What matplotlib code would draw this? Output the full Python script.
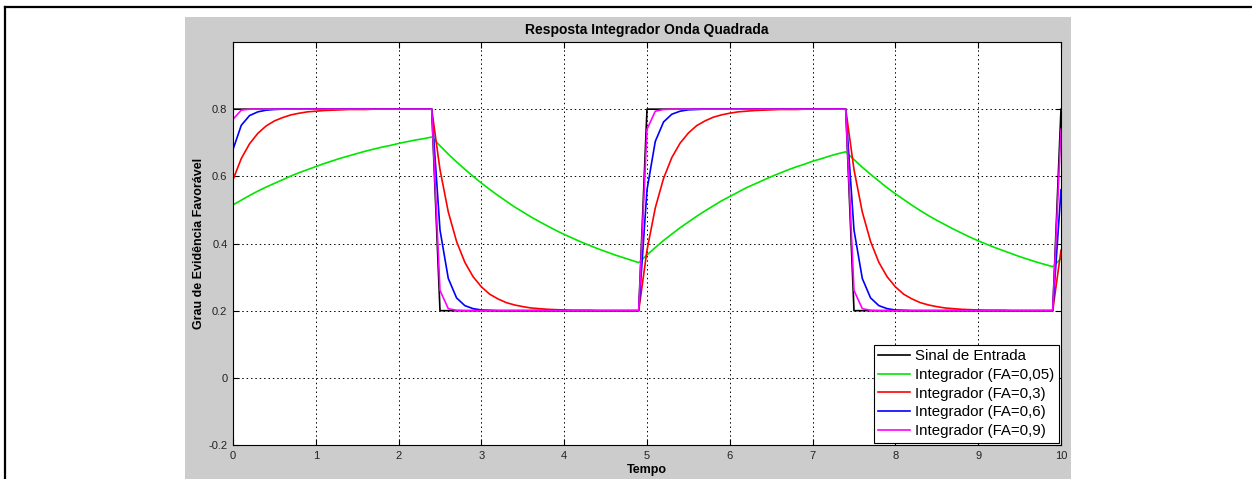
import matplotlib
matplotlib.use('Agg')
import matplotlib.pyplot as plt
from matplotlib.lines import Line2D
from matplotlib.patches import Rectangle

plt.rcParams['font.family'] = ['Liberation Sans', 'DejaVu Sans']

# time axis: 0 .. 10 in steps of 0.1
tempo = [i / 10 for i in range(101)]

# input square wave
entrada = [0.8] * 25 + [0.2] * 25 + [0.8] * 25 + [0.2] * 25 + [0.8]

# integrator responses
fa_005 = [0.515, 0.529, 0.543, 0.556, 0.568, 0.579, 0.590, 0.601, 0.611, 0.620,
          0.629, 0.638, 0.646, 0.654, 0.661, 0.668, 0.675, 0.681, 0.687, 0.692,
          0.698, 0.703, 0.708, 0.712, 0.717,
          0.691, 0.666, 0.643, 0.621, 0.600, 0.580, 0.561, 0.543, 0.526, 0.509,
          0.494, 0.479, 0.465, 0.452, 0.439, 0.427, 0.416, 0.405, 0.395, 0.385,
          0.376, 0.367, 0.359, 0.351, 0.343,
          0.366, 0.388, 0.409, 0.428, 0.447, 0.464, 0.481, 0.497, 0.512, 0.527,
          0.540, 0.553, 0.566, 0.577, 0.588, 0.599, 0.609, 0.619, 0.628, 0.636,
          0.645, 0.652, 0.660, 0.667, 0.673,
          0.650, 0.627, 0.606, 0.586, 0.566, 0.548, 0.531, 0.514, 0.498, 0.483,
          0.469, 0.456, 0.443, 0.431, 0.419, 0.408, 0.398, 0.388, 0.379, 0.370,
          0.361, 0.353, 0.345, 0.338, 0.331,
          0.355]

red_down = [0.620, 0.494, 0.406, 0.344, 0.301, 0.271, 0.249, 0.235, 0.224, 0.217,
            0.212, 0.208, 0.206, 0.204, 0.203, 0.202, 0.201, 0.201, 0.201] + [0.2] * 6
fa_03 = ([0.590, 0.653, 0.697, 0.728, 0.750, 0.765, 0.775, 0.783, 0.788, 0.792,
          0.794, 0.796, 0.797, 0.798, 0.799, 0.799, 0.799] + [0.8] * 8
         + red_down
         + [0.380, 0.506, 0.594, 0.656, 0.699, 0.729, 0.751, 0.765, 0.776, 0.783,
            0.788, 0.792, 0.794, 0.796, 0.797, 0.798, 0.799, 0.799, 0.799] + [0.8] * 6
         + red_down
         + [0.380])

blue_down = [0.440, 0.296, 0.238, 0.215, 0.206, 0.202, 0.201] + [0.2] * 18
fa_06 = ([0.680, 0.752, 0.781, 0.792, 0.797, 0.799] + [0.8] * 19
         + blue_down
         + [0.560, 0.704, 0.762, 0.785, 0.794, 0.798, 0.799] + [0.8] * 18
         + blue_down
         + [0.560])

mag_down = [0.260, 0.206, 0.201] + [0.2] * 22
fa_09 = ([0.770, 0.797] + [0.8] * 23
         + mag_down
         + [0.740, 0.794, 0.799] + [0.8] * 22
         + mag_down
         + [0.740])

series = [
    (entrada, 'Sinal de Entrada', 'black'),
    (fa_005, 'Integrador (FA=0,05)', '#00e600'),
    (fa_03, 'Integrador (FA=0,3)', 'red'),
    (fa_06, 'Integrador (FA=0,6)', 'blue'),
    (fa_09, 'Integrador (FA=0,9)', 'magenta'),
]

W, H = 1252, 479
fig = plt.figure(figsize=(W / 100, H / 100), dpi=100)
fig.patch.set_facecolor('white')

# grey panel and window borders
fig.patches.append(Rectangle((185 / W, 0), (1071 - 185) / W, (H - 17) / H,
                             transform=fig.transFigure, facecolor='#cccccc',
                             edgecolor='none', zorder=-10))
fig.add_artist(Line2D([5 / W, 1], [1 - 7 / H, 1 - 7 / H], color='black', lw=1.6,
                      transform=fig.transFigure))
fig.add_artist(Line2D([5 / W, 5 / W], [0, 1 - 7 / H], color='black', lw=1.6,
                      transform=fig.transFigure))

ax = fig.add_axes([233 / W, 1 - 445 / H, (1061 - 233) / W, (445 - 42) / H])
ax.set_facecolor('white')

for vals, label, color in series:
    ax.plot(tempo, vals, color=color, lw=1.2, label=label)

ax.set_xlim(0, 10)
ax.set_ylim(-0.2, 1.0)
ax.set_xticks(range(11))
ax.set_yticks([-0.2, 0, 0.2, 0.4, 0.6, 0.8])
ax.set_yticklabels(['-0.2', '0', '0.2', '0.4', '0.6', '0.8'])
ax.grid(True, color='black', linestyle=(0, (1.5, 3)), lw=0.7)
ax.tick_params(direction='in', length=4, width=0.8, labelsize=8,
               top=True, right=True, pad=4, colors='black', labelcolor='#222222')
for s in ax.spines.values():
    s.set_linewidth(0.8)

ax.set_title('Resposta Integrador Onda Quadrada', fontsize=10, fontweight='bold', pad=6)
ax.set_xlabel('Tempo', fontsize=9, fontweight='bold')
ax.xaxis.set_label_coords(0.5, -0.048)
ax.set_ylabel('Grau de Evidência Favorável', fontsize=9, fontweight='bold')
ax.yaxis.set_label_coords(-0.034, 0.5)

leg = ax.legend(loc='lower right', fontsize=10.8, fancybox=False, framealpha=1,
                edgecolor='black', borderaxespad=0.15, handlelength=2.1,
                handletextpad=0.35, labelspacing=0.32, borderpad=0.3)
leg.get_frame().set_linewidth(0.8)

fig.savefig('out.png', dpi=100)
